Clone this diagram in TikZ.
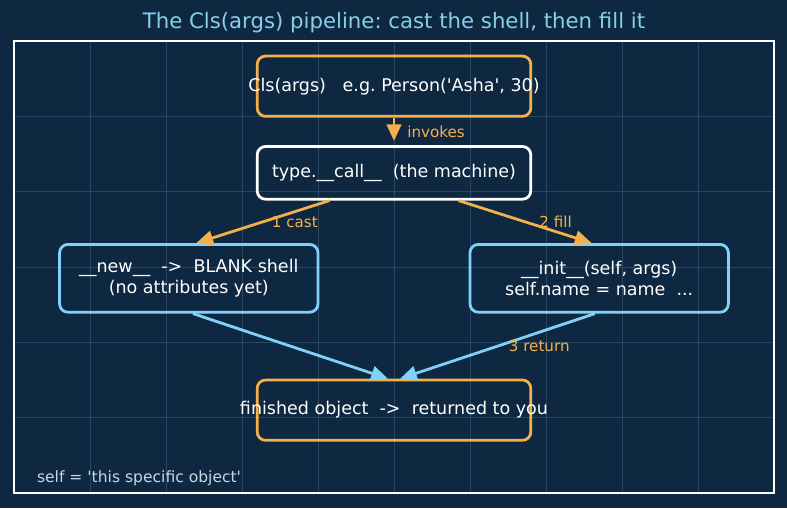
\documentclass[tikz,border=0pt]{standalone}
\usepackage{fontspec}
\setmainfont{DejaVu Sans}
\usetikzlibrary{arrows.meta}
\definecolor{navy}{HTML}{0E2841}
\definecolor{gridc}{HTML}{2A4660}
\definecolor{amber}{HTML}{F5B04A}
\definecolor{skyb}{HTML}{80D2FA}
\definecolor{ttl}{HTML}{87CEEB}
\definecolor{note}{HTML}{C9D6E3}
\frenchspacing

\begin{document}
\begin{tikzpicture}[x=54.72pt,y=54.24pt,
		box/.style={draw, line width=2pt, rounded corners=6pt, minimum width=3.6*54.72pt,
			text=white, font=\fontsize{12.6}{15.2}\selectfont, align=center, inner sep=0pt},
		obox/.style={box, draw=amber, minimum height=0.8*54.24pt},
		wbox/.style={box, draw=white, minimum height=0.7*54.24pt},
		bbox/.style={box, draw=skyb, minimum width=3.4*54.72pt, minimum height=0.9*54.24pt},
		oarr/.style={draw=amber, line width=2pt, -{Triangle[length=12pt,width=10.5pt]}},
		barr/.style={draw=skyb, line width=2pt, -{Triangle[length=12pt,width=10.5pt]}},
		lbl/.style={text=amber, font=\fontsize{10.9}{13}\selectfont, inner sep=0pt}]
		% background, grid and frame
		\fill[navy] (-0.1842,-0.1991) rectangle (10.1711,6.5445);
		\useasboundingbox (-0.1842,-0.1991) rectangle (10.1711,6.5445);
		\draw[gridc, line width=0.6pt, step=1] (0,0) grid (10,6);
		\draw[white, line width=1.1pt] (0,0) rectangle (10,6);
		\node[text=ttl, font=\fontsize{15.3}{18}\selectfont] (title) at (5,6.25) {The Cls(args) pipeline: cast the shell, then fill it};
		% boxes
		\node[obox] (cls) at (5,5.4) {\makebox[0pt]{Cls(args)~~~e.g. Person(\textquotesingle Asha\textquotesingle, 30)}};
		\node[wbox] (call) at (5,4.25) {type.\_\_call\_\_~~(the machine)};
		\node[bbox] (new) at (2.3,2.85) {\_\_new\_\_~~->~~BLANK shell\\(no attributes yet)};
		\node[bbox] (init) at (7.7,2.85) {\_\_init\_\_(self, args)\\self.name = name~~...};
		\node[obox] (fin) at (5,1.1) {\makebox[0pt]{finished object~~->~~returned to you}};
		\node[text=note, font=\fontsize{11.2}{13}\selectfont, anchor=west, inner sep=0pt] (note) at (0.3,0.2) {self = \textquotesingle this specific object\textquotesingle};
		% arrows
		\draw[oarr, shorten >=3pt] (cls) -- (call) node[lbl, midway, anchor=west, xshift=8.6pt] {invokes};
		\draw[oarr] ([xshift=-46.5pt]call.south) -- ([xshift=5.5pt]new.north) node[lbl, midway, xshift=23pt] {1 cast};
		\draw[oarr] ([xshift=46.5pt]call.south) -- ([xshift=-5.5pt]init.north) node[lbl, midway, xshift=22pt] {2 fill};
		\draw[barr] ([xshift=3pt]new.south) -- ([xshift=-4.4pt]fin.north);
		\draw[barr] ([xshift=-3pt]init.south) -- ([xshift=4.4pt]fin.north) node[lbl, midway, xshift=30pt] {3 return};
	\end{tikzpicture}
\end{document}
